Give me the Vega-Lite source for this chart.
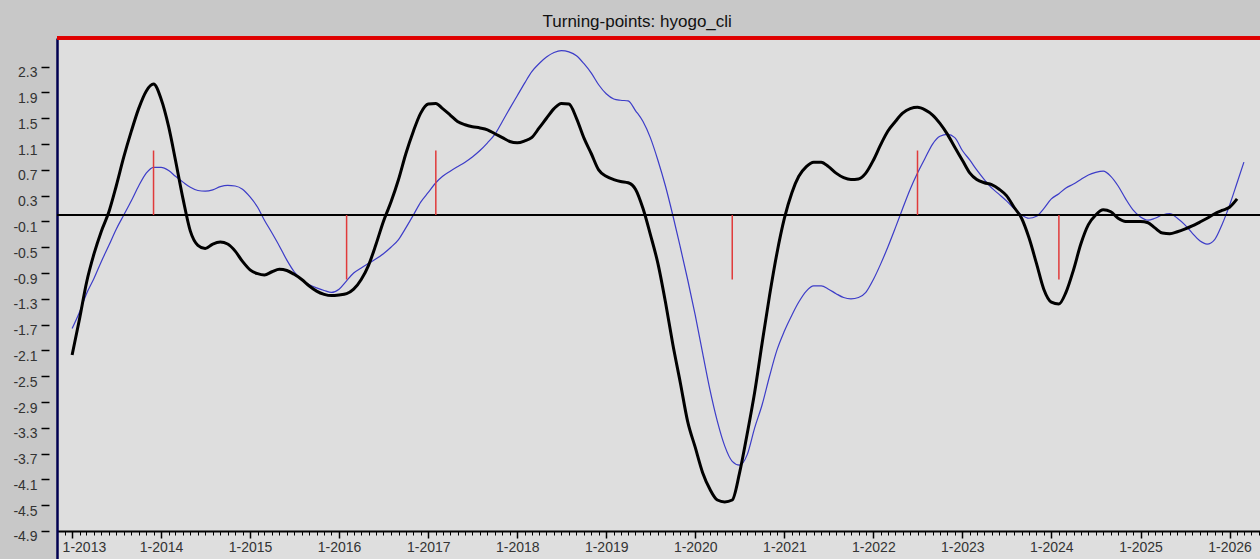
{
 "$schema": "https://vega.github.io/schema/vega-lite/v6.json",
 "width": 1203, "height": 521,
 "autosize": {"type": "none"},
 "padding": {"left": 57, "top": 38, "right": 0, "bottom": 0},
 "background": "#c8c8c8",
 "config": {"view": {"fill": "#dedede", "stroke": null}, "font": "Liberation Sans"},
 "title": {"text": "Turning-points: hyogo_cli", "anchor": "middle", "frame": "bounds", "fontSize": 17, "fontWeight": "normal", "color": "#111111", "offset": 6},
 "datasets": {
  "cli": [
   {"t":"2013-01-01","k":-2.17,"b":-1.76},{"t":"2013-02-01","k":-1.6,"b":-1.5},{"t":"2013-03-01","k":-1.05,"b":-1.22},{"t":"2013-04-01","k":-0.6,"b":-0.98},{"t":"2013-05-01","k":-0.25,"b":-0.72},{"t":"2013-06-01","k":0.05,"b":-0.47},{"t":"2013-07-01","k":0.45,"b":-0.22},{"t":"2013-08-01","k":0.9,"b":0.0},{"t":"2013-09-01","k":1.3,"b":0.22},{"t":"2013-10-01","k":1.65,"b":0.45},{"t":"2013-11-01","k":1.92,"b":0.65},{"t":"2013-12-01","k":2.03,"b":0.74},
   {"t":"2014-01-01","k":1.8,"b":0.74},{"t":"2014-02-01","k":1.37,"b":0.69},{"t":"2014-03-01","k":0.85,"b":0.6},{"t":"2014-04-01","k":0.25,"b":0.51},{"t":"2014-05-01","k":-0.25,"b":0.43},{"t":"2014-06-01","k":-0.47,"b":0.38},{"t":"2014-07-01","k":-0.52,"b":0.37},{"t":"2014-08-01","k":-0.45,"b":0.39},{"t":"2014-09-01","k":-0.42,"b":0.44},{"t":"2014-10-01","k":-0.45,"b":0.46},{"t":"2014-11-01","k":-0.56,"b":0.45},{"t":"2014-12-01","k":-0.72,"b":0.4},
   {"t":"2015-01-01","k":-0.85,"b":0.28},{"t":"2015-02-01","k":-0.91,"b":0.12},{"t":"2015-03-01","k":-0.93,"b":-0.08},{"t":"2015-04-01","k":-0.88,"b":-0.28},{"t":"2015-05-01","k":-0.84,"b":-0.48},{"t":"2015-06-01","k":-0.86,"b":-0.7},{"t":"2015-07-01","k":-0.92,"b":-0.88},{"t":"2015-08-01","k":-1.0,"b":-1.0},{"t":"2015-09-01","k":-1.1,"b":-1.08},{"t":"2015-10-01","k":-1.18,"b":-1.13},{"t":"2015-11-01","k":-1.23,"b":-1.17},{"t":"2015-12-01","k":-1.25,"b":-1.2},
   {"t":"2016-01-01","k":-1.24,"b":-1.15},{"t":"2016-02-01","k":-1.22,"b":-1.02},{"t":"2016-03-01","k":-1.15,"b":-0.9},{"t":"2016-04-01","k":-1.0,"b":-0.82},{"t":"2016-05-01","k":-0.78,"b":-0.75},{"t":"2016-06-01","k":-0.45,"b":-0.68},{"t":"2016-07-01","k":-0.1,"b":-0.6},{"t":"2016-08-01","k":0.2,"b":-0.5},{"t":"2016-09-01","k":0.55,"b":-0.38},{"t":"2016-10-01","k":0.95,"b":-0.2},{"t":"2016-11-01","k":1.3,"b":0.0},{"t":"2016-12-01","k":1.58,"b":0.2},
   {"t":"2017-01-01","k":1.72,"b":0.35},{"t":"2017-02-01","k":1.73,"b":0.5},{"t":"2017-03-01","k":1.65,"b":0.6},{"t":"2017-04-01","k":1.55,"b":0.68},{"t":"2017-05-01","k":1.45,"b":0.75},{"t":"2017-06-01","k":1.4,"b":0.82},{"t":"2017-07-01","k":1.37,"b":0.9},{"t":"2017-08-01","k":1.35,"b":1.0},{"t":"2017-09-01","k":1.32,"b":1.12},{"t":"2017-10-01","k":1.26,"b":1.25},{"t":"2017-11-01","k":1.2,"b":1.45},{"t":"2017-12-01","k":1.14,"b":1.65},
   {"t":"2018-01-01","k":1.12,"b":1.85},{"t":"2018-02-01","k":1.15,"b":2.05},{"t":"2018-03-01","k":1.2,"b":2.22},{"t":"2018-04-01","k":1.35,"b":2.35},{"t":"2018-05-01","k":1.5,"b":2.45},{"t":"2018-06-01","k":1.65,"b":2.52},{"t":"2018-07-01","k":1.73,"b":2.55},{"t":"2018-08-01","k":1.72,"b":2.53},{"t":"2018-09-01","k":1.5,"b":2.47},{"t":"2018-10-01","k":1.2,"b":2.35},{"t":"2018-11-01","k":0.95,"b":2.2},{"t":"2018-12-01","k":0.7,"b":2.02},
   {"t":"2019-01-01","k":0.6,"b":1.88},{"t":"2019-02-01","k":0.55,"b":1.8},{"t":"2019-03-01","k":0.52,"b":1.78},{"t":"2019-04-01","k":0.5,"b":1.77},{"t":"2019-05-01","k":0.4,"b":1.62},{"t":"2019-06-01","k":0.1,"b":1.45},{"t":"2019-07-01","k":-0.3,"b":1.2},{"t":"2019-08-01","k":-0.75,"b":0.85},{"t":"2019-09-01","k":-1.35,"b":0.45},{"t":"2019-10-01","k":-2.0,"b":0.0},{"t":"2019-11-01","k":-2.6,"b":-0.5},{"t":"2019-12-01","k":-3.2,"b":-1.0},
   {"t":"2020-01-01","k":-3.6,"b":-1.55},{"t":"2020-02-01","k":-4.0,"b":-2.15},{"t":"2020-03-01","k":-4.25,"b":-2.7},{"t":"2020-04-01","k":-4.42,"b":-3.2},{"t":"2020-05-01","k":-4.45,"b":-3.58},{"t":"2020-06-01","k":-4.42,"b":-3.82},{"t":"2020-07-01","k":-4.0,"b":-3.88},{"t":"2020-08-01","k":-3.4,"b":-3.72},{"t":"2020-09-01","k":-2.75,"b":-3.3},{"t":"2020-10-01","k":-2.0,"b":-2.95},{"t":"2020-11-01","k":-1.25,"b":-2.5},{"t":"2020-12-01","k":-0.6,"b":-2.1},
   {"t":"2021-01-01","k":-0.05,"b":-1.8},{"t":"2021-02-01","k":0.35,"b":-1.55},{"t":"2021-03-01","k":0.6,"b":-1.35},{"t":"2021-04-01","k":0.75,"b":-1.18},{"t":"2021-05-01","k":0.82,"b":-1.1},{"t":"2021-06-01","k":0.82,"b":-1.1},{"t":"2021-07-01","k":0.75,"b":-1.15},{"t":"2021-08-01","k":0.65,"b":-1.22},{"t":"2021-09-01","k":0.58,"b":-1.28},{"t":"2021-10-01","k":0.55,"b":-1.3},{"t":"2021-11-01","k":0.56,"b":-1.28},{"t":"2021-12-01","k":0.65,"b":-1.2},
   {"t":"2022-01-01","k":0.85,"b":-1.0},{"t":"2022-02-01","k":1.1,"b":-0.75},{"t":"2022-03-01","k":1.3,"b":-0.5},{"t":"2022-04-01","k":1.45,"b":-0.2},{"t":"2022-05-01","k":1.58,"b":0.1},{"t":"2022-06-01","k":1.65,"b":0.4},{"t":"2022-07-01","k":1.67,"b":0.65},{"t":"2022-08-01","k":1.63,"b":0.88},{"t":"2022-09-01","k":1.55,"b":1.1},{"t":"2022-10-01","k":1.42,"b":1.22},{"t":"2022-11-01","k":1.25,"b":1.25},{"t":"2022-12-01","k":1.05,"b":1.2},
   {"t":"2023-01-01","k":0.85,"b":1.0},{"t":"2023-02-01","k":0.65,"b":0.85},{"t":"2023-03-01","k":0.55,"b":0.7},{"t":"2023-04-01","k":0.5,"b":0.55},{"t":"2023-05-01","k":0.47,"b":0.42},{"t":"2023-06-01","k":0.4,"b":0.32},{"t":"2023-07-01","k":0.3,"b":0.22},{"t":"2023-08-01","k":0.12,"b":0.1},{"t":"2023-09-01","k":-0.05,"b":0.0},{"t":"2023-10-01","k":-0.35,"b":-0.05},{"t":"2023-11-01","k":-0.75,"b":-0.02},{"t":"2023-12-01","k":-1.15,"b":0.1},
   {"t":"2024-01-01","k":-1.35,"b":0.25},{"t":"2024-02-01","k":-1.38,"b":0.33},{"t":"2024-03-01","k":-1.2,"b":0.42},{"t":"2024-04-01","k":-0.85,"b":0.48},{"t":"2024-05-01","k":-0.45,"b":0.55},{"t":"2024-06-01","k":-0.15,"b":0.62},{"t":"2024-07-01","k":0.0,"b":0.66},{"t":"2024-08-01","k":0.08,"b":0.68},{"t":"2024-09-01","k":0.05,"b":0.6},{"t":"2024-10-01","k":-0.05,"b":0.45},{"t":"2024-11-01","k":-0.1,"b":0.25},{"t":"2024-12-01","k":-0.1,"b":0.08},
   {"t":"2025-01-01","k":-0.1,"b":-0.03},{"t":"2025-02-01","k":-0.12,"b":-0.08},{"t":"2025-03-01","k":-0.2,"b":-0.05},{"t":"2025-04-01","k":-0.28,"b":0.0},{"t":"2025-05-01","k":-0.29,"b":0.02},{"t":"2025-06-01","k":-0.26,"b":-0.05},{"t":"2025-07-01","k":-0.22,"b":-0.15},{"t":"2025-08-01","k":-0.17,"b":-0.28},{"t":"2025-09-01","k":-0.11,"b":-0.4},{"t":"2025-10-01","k":-0.05,"b":-0.45},{"t":"2025-11-01","k":0.02,"b":-0.38},{"t":"2025-12-01","k":0.07,"b":-0.15},
   {"t":"2026-01-01","k":0.12,"b":0.15},{"t":"2026-02-01","k":0.25,"b":0.5},{"t":"2026-03-01","b":0.82}
  ],
  "tp": [
   {"t":"2013-12-01","v":1},{"t":"2016-02-01","v":-1},{"t":"2017-02-01","v":1},{"t":"2020-06-01","v":-1},{"t":"2022-07-01","v":1},{"t":"2024-02-01","v":-1}
  ]
 },
 "layer": [
  {
   "data": {"name": "cli"},
   "mark": {"type": "line", "color": "#3c3cc8", "strokeWidth": 1.2, "interpolate": "monotone"},
   "encoding": {
    "x": {"field": "t", "type": "temporal",
      "scale": {"type": "utc", "domain": [{"year": 2012, "month": 10, "date": 31, "utc": true}, {"year": 2026, "month": 5, "date": 6, "utc": true}]},
      "axis": {"orient": "bottom", "offset": -28, "tickCount": {"interval": "year", "step": 1}, "format": "%-m-%Y", "tickSize": 7, "tickWidth": 1.5, "tickColor": "#000000", "domain": true, "domainColor": "#000000", "domainWidth": 2, "labelFontSize": 14, "labelColor": "#333333", "labelPadding": 2, "labelFlush": 20, "labelFlushOffset": 10, "labelOverlap": false, "grid": false, "title": null}},
    "y": {"field": "b", "type": "quantitative",
      "scale": {"domain": [-5.3345, 2.745], "nice": false, "zero": false},
      "axis": {"orient": "left", "offset": 8, "domain": false, "values": [2.3, 1.9, 1.5, 1.1, 0.7, 0.3, -0.1, -0.5, -0.9, -1.3, -1.7, -2.1, -2.5, -2.9, -3.3, -3.7, -4.1, -4.5, -4.9], "format": ".1f", "labelExpr": "replace(datum.label, '\u2212', '-')", "tickSize": 8, "tickWidth": 1.5, "tickColor": "#000000", "labelFontSize": 14, "labelColor": "#333333", "labelPadding": 4, "labelBaseline": "top", "labelOffset": -1, "labelOverlap": false, "grid": false, "title": null}}
   }
  },
  {
   "data": {"name": "cli"},
   "mark": {"type": "rule", "color": "#000000", "strokeWidth": 1.2},
   "encoding": {"y": {"datum": 0, "type": "quantitative", "axis": null}}
  },
  {
   "data": {"name": "tp"},
   "mark": {"type": "rule", "color": "#e03a3a", "strokeWidth": 1.5},
   "encoding": {
    "x": {"field": "t", "type": "temporal", "axis": null},
    "y": {"field": "v", "type": "quantitative", "axis": null},
    "y2": {"datum": 0}
   }
  },
  {
   "data": {"name": "cli"},
   "mark": {"type": "line", "color": "#000000", "strokeWidth": 3, "interpolate": "monotone"},
   "encoding": {
    "x": {"field": "t", "type": "temporal",
      "axis": {"orient": "bottom", "offset": -28, "tickCount": {"interval": "month", "step": 1}, "tickSize": 4, "tickWidth": 1, "tickColor": "#000000", "labels": false, "domain": false, "grid": false, "title": null}},
    "y": {"field": "k", "type": "quantitative",
      "axis": {"orient": "left", "offset": 0, "domain": true, "domainColor": "#000050", "domainWidth": 2.5, "ticks": false, "labels": false, "grid": false, "title": null}}
   }
  },
  {
   "data": {"name": "tp"},
   "mark": {"type": "rule", "color": "#e00000", "strokeWidth": 3},
   "encoding": {"y": {"datum": 2.745, "type": "quantitative", "axis": null}}
  }
 ],
 "resolve": {"axis": {"x": "independent", "y": "independent"}}
}
